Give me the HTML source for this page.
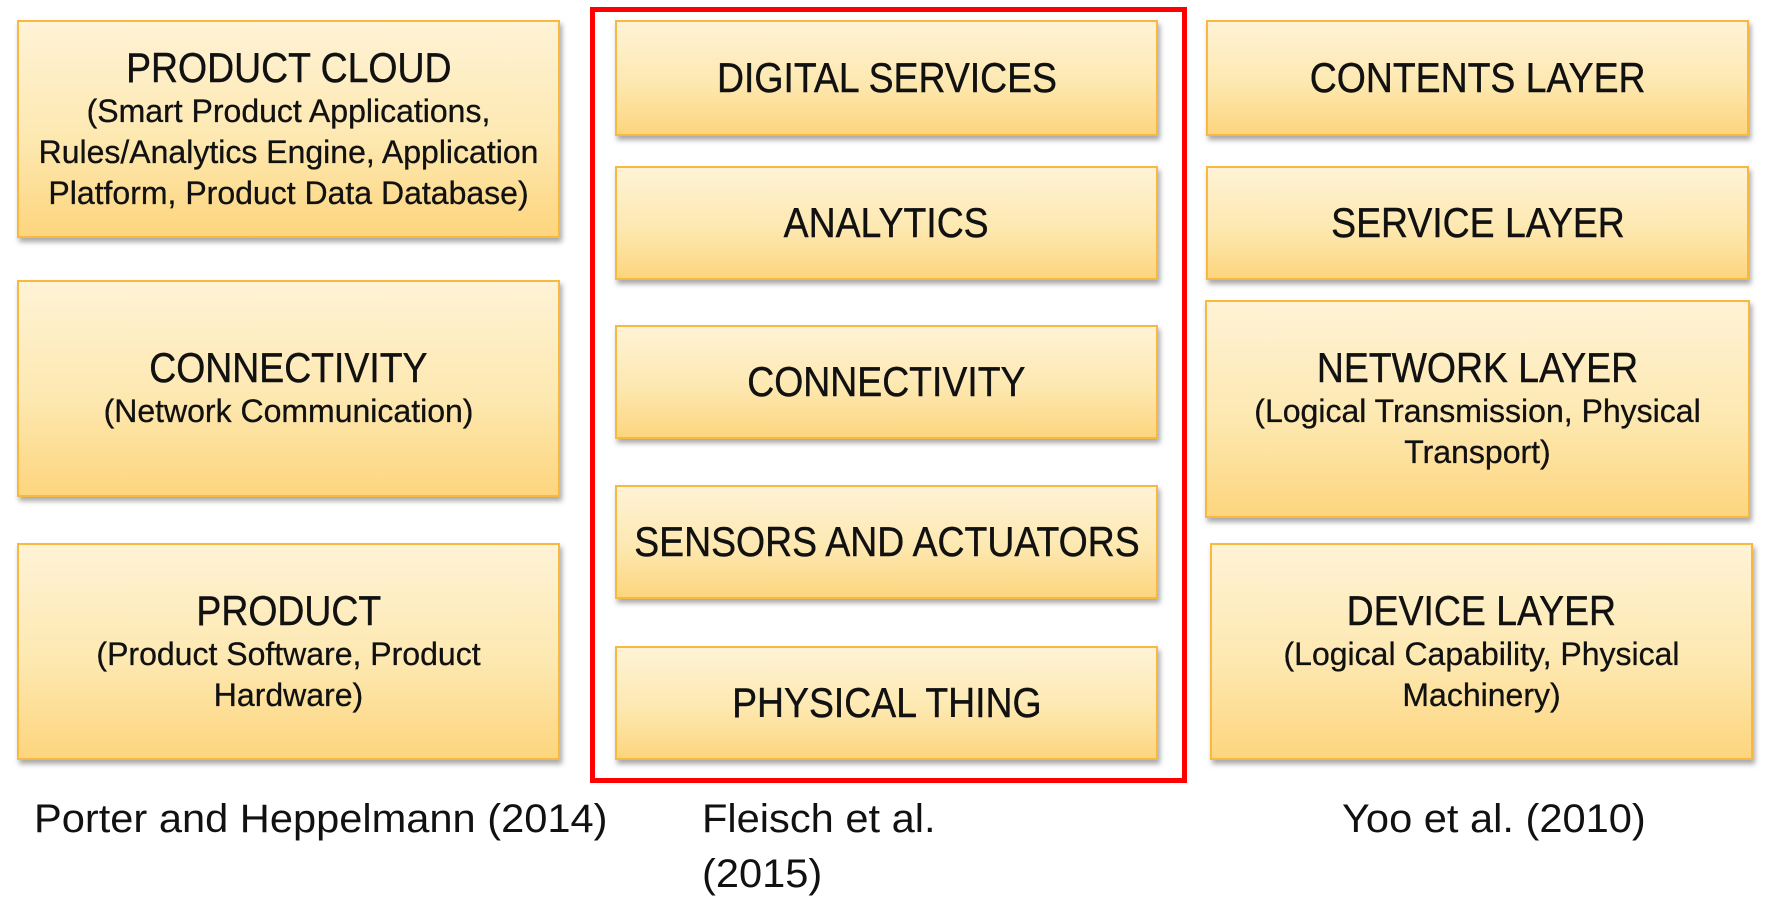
<!DOCTYPE html>
<html><head><meta charset="utf-8"><style>
html,body{margin:0;padding:0;background:#fff;width:1770px;height:899px;overflow:hidden;position:relative;font-family:"Liberation Sans",sans-serif;color:#111}
.b{position:absolute;box-sizing:border-box;border:2px solid #f9b840;background:linear-gradient(#fff3d6,#fde8b0 55%,#fdd57e);box-shadow:2px 4px 5px rgba(0,0,0,.35);display:flex;flex-direction:column;align-items:center;justify-content:center;text-align:center}
.t{font-size:42px;line-height:46px;transform:scaleX(.89);white-space:nowrap;-webkit-text-stroke:.4px #111}
.s{font-size:32px;line-height:41px;transform:scaleX(1.0);white-space:nowrap;-webkit-text-stroke:.3px #111}
.red{position:absolute;left:590px;top:7px;width:597px;height:776px;box-sizing:border-box;border:5px solid #f00}
.c{position:absolute;font-size:40px;line-height:52px;transform-origin:left center;transform:scaleX(1.04);white-space:nowrap}
</style></head><body>
<div class="red"></div>

<div class="b" style="left:17px;top:20px;width:543px;height:218px"><div class="t">PRODUCT CLOUD</div><div class="s">(Smart Product Applications,<br>Rules/Analytics Engine, Application<br>Platform, Product Data Database)</div></div>
<div class="b" style="left:17px;top:280px;width:543px;height:217px"><div class="t">CONNECTIVITY</div><div class="s">(Network Communication)</div></div>
<div class="b" style="left:17px;top:543px;width:543px;height:217px"><div class="t">PRODUCT</div><div class="s">(Product Software, Product<br>Hardware)</div></div>

<div class="b" style="left:615px;top:20px;width:543px;height:116px"><div class="t">DIGITAL SERVICES</div></div>
<div class="b" style="left:615px;top:166px;width:543px;height:114px"><div class="t">ANALYTICS</div></div>
<div class="b" style="left:615px;top:325px;width:543px;height:114px"><div class="t">CONNECTIVITY</div></div>
<div class="b" style="left:615px;top:485px;width:543px;height:114px"><div class="t">SENSORS AND ACTUATORS</div></div>
<div class="b" style="left:615px;top:646px;width:543px;height:114px"><div class="t">PHYSICAL THING</div></div>

<div class="b" style="left:1206px;top:20px;width:543px;height:116px"><div class="t">CONTENTS LAYER</div></div>
<div class="b" style="left:1206px;top:166px;width:543px;height:114px"><div class="t">SERVICE LAYER</div></div>
<div class="b" style="left:1205px;top:300px;width:545px;height:218px"><div class="t">NETWORK LAYER</div><div class="s">(Logical Transmission, Physical<br>Transport)</div></div>
<div class="b" style="left:1210px;top:543px;width:543px;height:217px"><div class="t">DEVICE LAYER</div><div class="s">(Logical Capability, Physical<br>Machinery)</div></div>

<div class="c" style="left:34px;top:793px">Porter and Heppelmann (2014)</div>
<div class="c" style="left:702px;top:793px">Fleisch et al.</div>
<div class="c" style="left:702px;top:848px">(2015)</div>
<div class="c" style="left:1342px;top:793px">Yoo et al. (2010)</div>
</body></html>
